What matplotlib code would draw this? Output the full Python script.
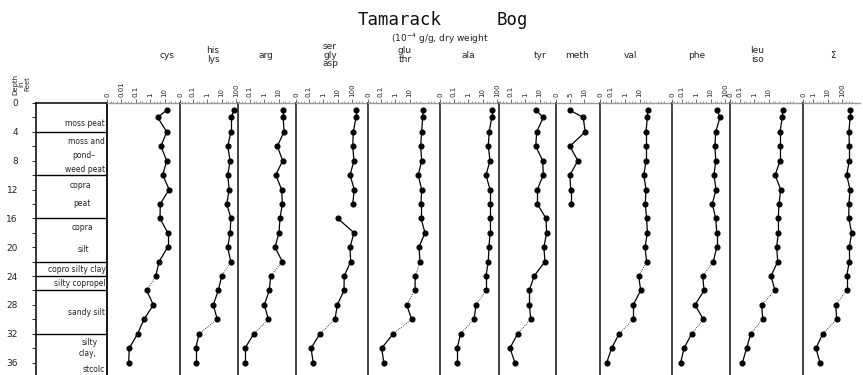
import numpy as np
import matplotlib.pyplot as plt
from matplotlib.ticker import FixedLocator, NullFormatter

W, H = 863, 375
TOP = 103            # pixel row of depth 0
PX_PER_FT = 7.21
DW = 14.5            # pixels per decade on the log panels
YMAX = (H - TOP) / PX_PER_FT

# ── Data (10^-4 g/g dry weight) ──────────────────────────────────────────────
depth = [1, 2, 4, 6, 8, 10, 12, 14, 16, 18, 20, 22, 24, 26, 28, 30, 32, 34, 36]

cys = [14.2, 3.4, 14.2, 5.7, 14.2, 7.5, 21, 5.1, 4.9, 16.6, 16.6, 4.2, 2.5,
       0.59, 1.7, 0.39, 0.14, 0.037, 0.034]
his_lys = [76, 45, 45, 27, 39, 27, 34, 23, 45, 39, 27, 43, 10.3, 6.0, 2.7,
           5.1, 0.28, 0.17, 0.17]
arg = [21, 21, 24, 8.3, 19.5, 6.4, 16.6, 18.3, 12.7, 10.8, 5.7, 18.3, 2.9,
       2.3, 1.05, 2.0, 0.20, 0.049, 0.049]
ser_gly_asp = [189, 189, 123, 112, 137, 73, 144, 112, 10.3, 137, 73, 81, 29,
               28, 9.7, 6.7, 0.62, 0.15, 0.21]
glu_thr = [89, 81, 69, 59, 69, 40, 69, 62, 62, 117, 45, 53, 25, 24, 6.4,
           14.2, 0.76, 0.12, 0.17]
ala = [43, 43, 29, 25, 33, 17.4, 33, 33, 33, 33, 28, 25, 17.4, 17.4, 3.6,
       2.6, 0.31, 0.18, 0.18]
tyr = [5.7, 18.3, 6.4, 5.5, 16.6, 18.3, 7.1, 7.1, 28, 31, 20, 24, 4.2, 2.0,
       2.0, 2.5, 0.31, 0.092, 0.20]
meth = [4.9, 9.6, 10.3, 4.9, 7.7, 4.9, 5.2, 5.2]
val = [37, 35, 28, 28, 28, 20, 28, 25, 31, 35, 24, 31, 8.8, 12.1, 3.7, 3.7,
       0.39, 0.12, 0.055]
phe = [29, 45, 23, 20, 23, 17.4, 24, 13.3, 23, 27, 27, 15.6, 2.9, 3.6, 0.85,
       3.2, 0.50, 0.15, 0.088]
leu_iso = [95, 89, 62, 62, 62, 29, 69, 53, 47, 47, 37, 43, 14.9, 28, 3.4,
           4.0, 0.59, 0.31, 0.16]
total = [356, 356, 304, 319, 319, 211, 356, 304, 290, 467, 319, 319, 211,
         211, 37, 43, 4.7, 1.6, 3.0]

# lithology column
litho_bounds = [4, 10, 16, 22, 24, 26, 32]
litho_text = ["moss peat", "moss and", "pond–", "weed peat", "copra", "peat",
              "copra", "silt", "copro silty clay", "silty copropel",
              "sandy silt", "silty", "clay,", "stcolc"]
litho_depth = [2.8, 5.4, 7.3, 9.2, 11.4, 14.0, 17.3, 20.3, 23.1, 25.1, 29.1,
               33.2, 34.8, 36.9]

# ── Layout helpers ───────────────────────────────────────────────────────────
fig = plt.figure(figsize=(W / 100, H / 100), dpi=100)
fig.patch.set_facecolor('white')


def fx(px):
    return px / W


def fy(py):
    return 1 - py / H


def make_axes(left, right):
    return fig.add_axes([fx(left), 0, (right - left) / W, fy(TOP)])


# ── Lithology column ─────────────────────────────────────────────────────────
ax_l = make_axes(36, 107)
ax_l.set_xlim(0, 1)
ax_l.set_ylim(YMAX, 0)
for s in ('left', 'right', 'top'):
    ax_l.spines[s].set_linewidth(1.1)
ax_l.spines['bottom'].set_visible(False)
ax_l.set_xticks([])
ax_l.set_yticks(range(0, 37, 4))
ax_l.yaxis.set_minor_locator(FixedLocator(range(2, 37, 4)))
ax_l.tick_params(axis='y', which='major', length=3, width=0.7, pad=10,
                 labelsize=6.5, colors='#222222')
ax_l.tick_params(axis='y', which='minor', length=3, width=0.6)
ax_l.hlines(litho_bounds, 0, 1, color='black', lw=1.0)
lx = [0.97, 0.97, 0.83, 0.97, 0.62, 0.64, 0.66, 0.67, 0.98, 0.98, 0.97, 0.87,
      0.85, 0.97]
for t, d, x in zip(litho_text, litho_depth, lx):
    ax_l.text(x, d, t, fontsize=5.5, ha='right' if x > 0.8 else 'center',
              va='center', color='#222222')

fig.text(fx(21), fy(84), 'Depth\nin\nFeet', rotation=90, fontsize=5,
         ha='center', va='center', linespacing=1.0, color='#222222')

# ── Amino-acid panels ────────────────────────────────────────────────────────
# label, values, left px, right px, px of value 1, labelled ticks,
# segment start depths drawn dotted, start depths with no line, show "0"
panels = [
    ("cys", cys, 107, 180, 150, [0.01, 0.1, 1, 10], [24], [], True),
    ("his\nlys", his_lys, 180, 238, 207, [0.1, 1, 10, 100], [22, 30], [], True),
    ("arg", arg, 238, 296, 264, [0.1, 1, 10], [22, 30], [], False),
    ("ser\ngly\nasp", ser_gly_asp, 296, 368, 323, [0.1, 1, 10, 100], [30], [14], True),
    ("glu\nthr", glu_thr, 368, 440, 395, [0.1, 1, 10], [22, 26, 30], [], True),
    ("ala", ala, 440, 499, 468, [0.1, 1, 10, 100], [26, 30], [], True),
    ("tyr", tyr, 499, 556, 525, [0.1, 1, 10], [30], [], False),
    ("meth", meth, 556, 600, None, [5, 10], [], [], True),
    ("val", val, 600, 672, 625, [0.1, 1, 10], [22, 30], [], True),
    ("phe", phe, 672, 730, 696, [0.1, 1, 10, 100], [22, 30], [], True),
    ("leu\niso", leu_iso, 730, 803, 754, [0.1, 1, 10], [26, 30], [], True),
    ("Σ", total, 803, 860, 813, [1, 10, 100], [26, 30], [], True),
]
header_x = [167, 213, 266, 330, 405, 468, 540, 577, 630, 697, 757, 833]

for (name, vals, left, right, one, ticks, dotted, gaps, zero), hx in zip(panels, header_x):
    ax = make_axes(left, right)
    ax.set_facecolor('none')
    ax.set_ylim(YMAX, 0)
    if one is None:
        # linear scale (meth)
        ax.set_xlim(0, (right - 555) / 2.9)
        lo = 0
    else:
        ax.set_xscale('log')
        lo = 10 ** ((left - one) / DW)
        ax.set_xlim(lo, 10 ** ((right - one) / DW))
        ax.xaxis.set_minor_locator(FixedLocator(
            [m * 10.0 ** e for e in range(-4, 4) for m in (2, 3, 5)]))
        ax.xaxis.set_minor_formatter(NullFormatter())
    ax.xaxis.set_ticks_position('top')
    tpos = ([lo] if zero else []) + ticks
    tlab = (['0'] if zero else []) + [f'{t:g}' for t in ticks]
    ax.set_xticks(tpos)
    ax.set_xticklabels(tlab, rotation=90, fontsize=5, color='#222222')
    ax.tick_params(axis='x', which='major', length=3, width=0.6, pad=1,
                   color='#555555')
    ax.tick_params(axis='x', which='minor', length=1.5, width=0.5,
                   color='#777777')
    ax.set_yticks([])
    for s in ('right', 'bottom'):
        ax.spines[s].set_visible(False)
    ax.spines['top'].set_color('#9a9a9a')
    ax.spines['top'].set_linewidth(1.0)
    ax.spines['left'].set_linewidth(1.1)
    ax.spines['left'].set_color('#111111')

    d = depth[:len(vals)]
    for i in range(len(vals) - 1):
        if d[i] in gaps:
            continue
        ls = (0, (1, 1.5)) if d[i] in dotted else '-'
        lw = 0.6 if d[i] in dotted else 0.9
        ax.plot(vals[i:i + 2], d[i:i + 2], color='black', lw=lw, ls=ls,
                clip_on=False)
    ax.plot(vals, d, 'o', color='black', ms=3.4, clip_on=False)

    fig.text(fx(hx), fy(55), name, fontsize=6.5, ha='center', va='center',
             linespacing=0.95, color='#222222')

# ── Titles ───────────────────────────────────────────────────────────────────
fig.text(fx(400), fy(20), 'Tamarack', fontsize=12.5, family='DejaVu Sans Mono',
         ha='center', va='center', color='#111111')
fig.text(fx(512), fy(20), 'Bog', fontsize=12.5, family='DejaVu Sans Mono',
         ha='center', va='center', color='#111111')
fig.text(fx(440), fy(39), '(10$^{-4}$ g/g, dry weight', fontsize=6.5,
         ha='center', va='center', color='#222222')

fig.savefig('out.png', dpi=100, facecolor='white')
